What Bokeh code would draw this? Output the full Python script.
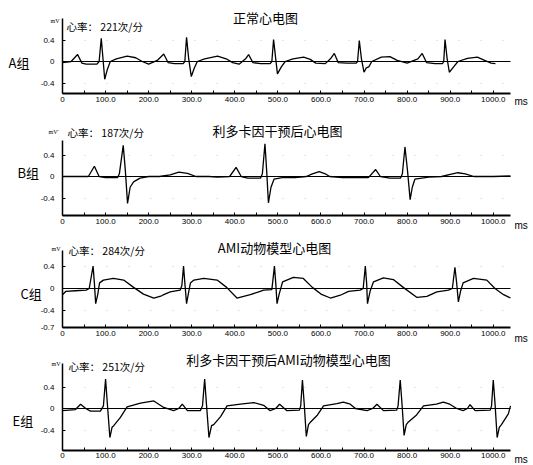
from bokeh.plotting import figure
from bokeh.layouts import column
from bokeh.models import Range1d, FixedTicker, Label, Grid
from bokeh.embed import file_html
from bokeh.resources import INLINE

# ---------------- data ----------------
x_ticks = [0, 100, 200, 300, 400, 500, 600, 700, 800, 900, 1000]
x_tick_labels = ["0", "100.0", "200.0", "300.0", "400.0", "500.0",
                 "600.0", "700.0", "800.0", "900.0", "1000.0"]
x_minor = [50, 150, 250, 350, 450, 550, 650, 750, 850, 950]
x_axis_end = 1040

group_names = ["A组", "B组", "C组", "E组"]
titles = ["正常心电图", "利多卡因干预后心电图", "AMI动物模型心电图", "利多卡因干预后AMI动物模型心电图"]
heart_rates = ["心率：  221次/分", "心率：  187次/分", "心率：  284次/分", "心率：  251次/分"]
unit_labels = ["mV", "mV'", "mV", "mV"]

a_t = [0, 20, 35, 45, 55, 80, 85, 90, 94, 98, 104, 111, 125, 150, 170, 185, 200, 220, 235, 245,
       260, 280, 284, 288, 293, 299, 306, 313, 330, 360, 380, 395, 410, 425, 432, 442, 460, 482,
       486, 490, 495, 499, 508, 517, 535, 560, 575, 588, 610, 622, 631, 640, 660, 682, 685, 689,
       694, 700, 705, 711, 718, 740, 760, 777, 800, 825, 835, 845, 865, 882, 885, 888, 893, 898,
       908, 918, 940, 963, 980, 995, 1005]
a_v = [-0.02, 0.0, 0.13, -0.03, -0.05, -0.05, 0.0, 0.43, 0.05, -0.33, -0.15, 0.0, 0.05, 0.1, 0.07,
       0.0, -0.05, 0.02, 0.14, -0.02, -0.04, -0.04, 0.0, 0.45, 0.05, -0.28, -0.12, 0.0, 0.05, 0.1,
       0.05, -0.02, -0.05, 0.05, 0.13, -0.02, -0.04, -0.04, 0.0, 0.41, 0.05, -0.23, -0.1, 0.0, 0.05,
       0.08, 0.04, -0.03, -0.04, 0.05, 0.15, -0.02, -0.03, -0.03, 0.0, 0.39, 0.05, -0.2, -0.12, -0.1,
       0.0, 0.08, 0.09, 0.02, -0.03, 0.05, 0.15, -0.02, -0.04, -0.04, 0.0, 0.41, 0.05, -0.2, -0.1,
       0.0, 0.06, 0.08, 0.02, -0.03, -0.04]

b_t = [0, 30, 60, 74, 85, 100, 128, 132, 141, 146, 151, 157, 165, 180, 200, 225, 250, 270, 290,
       310, 340, 360, 388, 403, 415, 430, 460, 464, 470, 474, 478, 484, 491, 510, 540, 566, 580,
       596, 610, 620, 650, 690, 710, 727, 738, 760, 785, 789, 795, 801, 807, 812, 818, 850, 880,
       900, 918, 935, 955, 1000, 1040]
b_v = [0.0, 0.0, 0.0, 0.19, 0.0, -0.02, -0.02, 0.05, 0.58, 0.1, -0.5, -0.2, -0.1, -0.03, 0.0, 0.0,
       0.03, 0.08, 0.06, 0.0, 0.0, -0.01, 0.0, 0.17, 0.0, -0.03, -0.03, 0.05, 0.61, 0.1, -0.49,
       -0.2, -0.05, -0.02, -0.02, 0.0, 0.05, 0.09, 0.05, 0.0, -0.02, -0.02, -0.02, 0.13, 0.0, -0.03,
       -0.03, 0.05, 0.55, 0.1, -0.43, -0.2, -0.05, -0.01, 0.0, 0.04, 0.07, 0.05, 0.0, 0.0, 0.01]

c_t = [0, 8, 30, 55, 62, 71, 74, 77, 82, 86, 95, 118, 142, 165, 188, 212, 230, 235, 250, 273,
       277, 281, 284, 288, 292, 297, 305, 328, 359, 381, 405, 436, 459, 467, 486, 492, 495, 498,
       503, 511, 536, 559, 580, 600, 622, 645, 664, 691, 698, 703, 706, 708, 714, 722, 745, 768,
       791, 823, 846, 869, 896, 905, 911, 915, 919, 924, 930, 954, 985, 1004, 1024, 1040]
c_v = [-0.11, -0.05, -0.04, -0.03, 0.0, 0.4, 0.1, -0.27, -0.1, 0.1, 0.15, 0.18, 0.15, 0.02, -0.1,
       -0.17, -0.13, -0.11, -0.06, -0.03, 0.05, 0.4, 0.1, -0.27, -0.1, 0.1, 0.15, 0.18, 0.15, 0.02,
       -0.17, -0.11, -0.05, -0.03, -0.02, 0.4, 0.1, -0.27, -0.1, 0.12, 0.2, 0.18, 0.02, -0.1, -0.17,
       -0.12, -0.05, -0.03, 0.0, 0.4, 0.1, -0.27, -0.05, 0.12, 0.19, 0.16, 0.02, -0.16, -0.14, -0.06,
       -0.03, 0.0, 0.38, 0.1, -0.24, -0.05, 0.1, 0.18, 0.15, 0.0, -0.11, -0.17]

e_t = [0, 30, 42, 54, 65, 88, 95, 100, 104, 110, 115, 119, 134, 150, 181, 212, 235, 258, 270, 278,
       290, 320, 325, 330, 334, 340, 346, 351, 367, 382, 413, 444, 467, 482, 495, 504, 521, 550,
       553, 557, 561, 566, 571, 576, 592, 606, 637, 652, 668, 680, 707, 720, 730, 745, 776, 779,
       784, 788, 793, 798, 803, 822, 838, 868, 884, 899, 915, 930, 940, 946, 958, 993, 996, 1000,
       1004, 1009, 1014, 1019, 1035, 1040]
e_v = [-0.04, -0.02, 0.08, 0.0, -0.05, -0.05, 0.05, 0.55, 0.1, -0.54, -0.35, -0.32, -0.17, 0.03,
       0.1, 0.14, 0.02, -0.04, 0.0, 0.08, -0.04, -0.04, 0.05, 0.55, 0.1, -0.54, -0.32, -0.3, -0.15,
       0.05, 0.08, 0.11, 0.06, -0.04, 0.0, 0.08, -0.04, -0.03, 0.05, 0.53, 0.1, -0.52, -0.3, -0.25,
       -0.12, 0.05, 0.09, 0.12, 0.08, 0.0, -0.04, 0.0, 0.08, -0.04, -0.03, 0.05, 0.53, 0.1, -0.5,
       -0.3, -0.25, -0.12, 0.05, 0.08, 0.12, 0.08, 0.0, -0.04, 0.0, 0.07, -0.04, -0.03, 0.05, 0.53,
       0.1, -0.54, -0.35, -0.3, -0.1, 0.05]

y_ticks_std = [0.4, 0, -0.4]
y_ticks_c = [0.4, 0, -0.4, -0.7]

# ---------------- layout (page pixels) ----------------
CJK = "Noto Sans CJK SC"
W = 533
AX_L = 62            # page x of t = 0
AX_R = 510           # page x of t = x_axis_end
K = x_axis_end / (AX_R - AX_L)   # ms per px


def dx(px):
    return (px - AX_L) * K


panels = [
    # t, v, yticks, fig_top, h, zero_py, px_per_mV, y_lo, y_hi,
    # title_cx, title_y, hr_x, hr_y, mv_x, mv_y, grp_x, grp_y, ms_y
    (a_t, a_v, y_ticks_std, 0, 115, 61, 53.75, -0.6, 0.8, 265, 17, 66, 26, 50, 20, 8, 62, 101),
    (b_t, b_v, y_ticks_std, 115, 115, 176, 53.75, -0.73, 0.67, 277, 130, 67, 132, 48, 131, 17, 172, 225),
    (c_t, c_v, y_ticks_c, 230, 115, 288, 56.0, -0.7, 0.68, 274, 247, 68, 250, 51, 248, 20, 293, 338),
    (e_t, e_v, y_ticks_std, 345, 120, 408, 53.75, -0.78, 0.84, 288, 359, 68, 366, 51, 363, 12, 420, 459),
]

has_cross = "cross_bounds" in Grid.properties()

figs = []
for i, (t, v, yt, ftop, h, zpy, s, ylo, yhi, tcx, ty, hx, hy, mx, my, gx, gy, msy) in enumerate(panels):
    def dy(py, zpy=zpy, s=s):
        return (zpy - py) / s

    p = figure(width=W, height=h,
               x_range=Range1d(dx(0), dx(W)),
               y_range=Range1d(dy(ftop + h), dy(ftop)),
               output_backend="svg", toolbar_location=None,
               min_border_left=0, min_border_right=0, min_border_top=0, min_border_bottom=0)
    p.outline_line_color = None
    p.background_fill_color = "white"
    p.border_fill_color = "white"
    p.xgrid.visible = False
    p.ygrid.visible = False

    # dotted grid rows and zero line
    g_dot = Grid(dimension=1, ticker=FixedTicker(ticks=[-0.4, 0.4]),
                 grid_line_color="#c8c8c8", grid_line_dash="1 21", grid_line_width=1)
    g_zero = Grid(dimension=1, ticker=FixedTicker(ticks=[0]),
                  grid_line_color="black", grid_line_width=1)
    if has_cross:
        g_dot.cross_bounds = (0, x_axis_end)
        g_zero.cross_bounds = (0, x_axis_end)
    p.add_layout(g_dot)
    p.add_layout(g_zero)

    xa = p.xaxis[0]
    xa.fixed_location = ylo
    xa.bounds = (0, x_axis_end)
    xa.ticker = FixedTicker(ticks=x_ticks, minor_ticks=x_minor)
    xa.major_label_overrides = {k: s_ for k, s_ in zip(x_ticks, x_tick_labels)}
    xa.major_tick_in = 3
    xa.major_tick_out = 0
    xa.minor_tick_in = 3
    xa.minor_tick_out = 0
    xa.axis_line_width = 2
    xa.major_label_standoff = 3
    xa.major_label_text_font = "Liberation Sans"
    xa.major_label_text_font_size = "8px"
    xa.major_label_text_color = "black"

    ya = p.yaxis[0]
    ya.fixed_location = 0
    ya.bounds = (ylo, yhi)
    ya.ticker = FixedTicker(ticks=yt)
    ya.major_label_overrides = {k: ("0" if k == 0 else f"{k:.1f}") for k in yt}
    ya.major_tick_in = 3
    ya.major_tick_out = 0
    ya.minor_tick_line_color = None
    ya.axis_line_width = 1.5
    ya.major_label_standoff = 8
    ya.major_label_text_font = "Liberation Sans"
    ya.major_label_text_font_size = "8px"
    ya.major_label_text_color = "black"

    p.line(t, v, line_color="black", line_width=1.3)

    p.add_layout(Label(x=dx(tcx), y=dy(ty), text=titles[i], text_font=CJK,
                       text_font_size="13px", text_align="center", text_baseline="middle",
                       text_color="black"))
    p.add_layout(Label(x=dx(hx), y=dy(hy), text=heart_rates[i], text_font=CJK,
                       text_font_size="10.5px", text_align="left", text_baseline="middle",
                       text_color="black"))
    p.add_layout(Label(x=dx(mx), y=dy(my), text=unit_labels[i], text_font="Liberation Serif",
                       text_font_size="6px", text_align="left", text_baseline="middle",
                       text_color="black"))
    p.add_layout(Label(x=dx(gx), y=dy(gy), text=group_names[i], text_font=CJK,
                       text_font_size="13px", text_align="left", text_baseline="middle",
                       text_color="black"))
    p.add_layout(Label(x=dx(514), y=dy(msy), text="ms", text_font="Liberation Sans",
                       text_font_size="10px", text_align="left", text_baseline="middle",
                       text_color="black"))
    figs.append(p)

layout = column(*figs, spacing=0)
open("out.html", "w").write(file_html(layout, INLINE))
